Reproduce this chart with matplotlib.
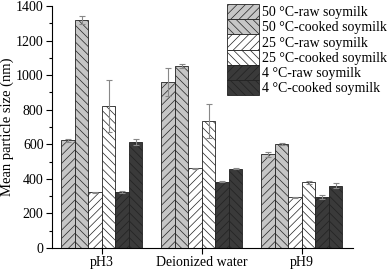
import numpy as np
import matplotlib
matplotlib.use('Agg')
import matplotlib.pyplot as plt
from matplotlib.ticker import MultipleLocator

plt.rcParams['font.family'] = 'Liberation Serif'
plt.rcParams['font.size'] = 10
plt.rcParams['hatch.linewidth'] = 0.5

groups = ['pH3', 'Deionized water', 'pH9']
series = ['50 °C-raw soymilk', '50 °C-cooked soymilk', '25 °C-raw soymilk',
          '25 °C-cooked soymilk', '4 °C-raw soymilk', '4 °C-cooked soymilk']

# mean particle size (nm), per series, per group
raw50 = [622, 960, 542]
cooked50 = [1318, 1055, 601]
raw25 = [322, 460, 293]
cooked25 = [820, 734, 380]
raw4 = [322, 384, 294]
cooked4 = [615, 457, 361]

err_raw50 = [10, 80, 15]
err_cooked50 = [25, 12, 8]
err_raw25 = [2, 3, 3]
err_cooked25 = [150, 100, 8]
err_raw4 = [5, 2, 12]
err_cooked4 = [18, 3, 12]

values = [raw50, cooked50, raw25, cooked25, raw4, cooked4]
errors = [err_raw50, err_cooked50, err_raw25, err_cooked25, err_raw4, err_cooked4]
colors = ['#c6c6c6', '#c6c6c6', 'white', 'white', '#3a3a3a', '#3a3a3a']
hatches = ['////', '\\\\\\\\', '////', '\\\\\\\\', '////', '\\\\\\\\']

fig = plt.figure(figsize=(3.87, 2.71), dpi=100)
ax = fig.add_axes([0.134, 0.085, 0.778, 0.893])

x = np.arange(1, len(groups) + 1)
w = 0.135
for i in range(6):
    pos = x + (i - 2.5) * w
    ax.bar(pos, values[i], w, color=colors[i], edgecolor='#222222', linewidth=0.6,
           hatch=hatches[i], label=series[i],
           yerr=errors[i], error_kw=dict(ecolor='#888888', elinewidth=0.8, capsize=2.5, capthick=0.8))

ax.set_xlim(0.5, 3.51)
ax.set_ylim(0, 1400)
ax.set_xticks(x)
ax.set_xticklabels(groups)
ax.yaxis.set_major_locator(MultipleLocator(200))
ax.yaxis.set_minor_locator(MultipleLocator(100))
ax.set_ylabel('Mean particle size (nm)', fontsize=10.5, labelpad=1)
ax.spines['top'].set_visible(False)
ax.spines['right'].set_visible(False)
ax.tick_params(direction='out', length=4, width=0.8, pad=2)
ax.tick_params(which='minor', direction='out', length=2.5, width=0.8)

ax.legend(loc='upper left', bbox_to_anchor=(0.581, 1.008), frameon=False,
          handlelength=2.3, handleheight=1.3, handletextpad=0.2,
          labelspacing=0.0, borderpad=0.0, borderaxespad=0.0, fontsize=10)

fig.savefig('out.png', dpi=100)
